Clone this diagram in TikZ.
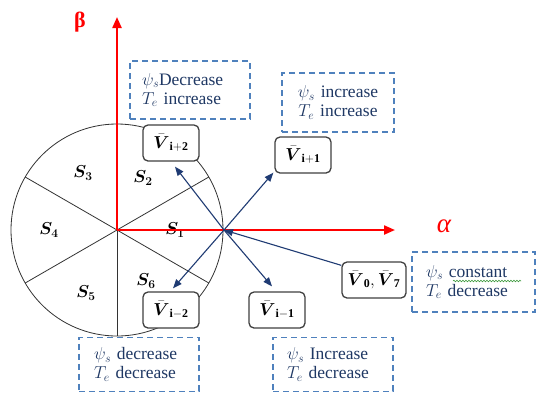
\documentclass[tikz,border=0pt]{standalone}
\usepackage{amsmath}
\usepackage{fontspec}
\setmainfont{Liberation Serif}
\usetikzlibrary{arrows.meta,decorations.pathmorphing}
\definecolor{axisred}{HTML}{FF0000}
\definecolor{vecblue}{HTML}{1F3B73}
\definecolor{dashblue}{HTML}{4F81BD}
\definecolor{txtblue}{HTML}{1F3864}
\definecolor{boxgray}{HTML}{404040}
\definecolor{wavegreen}{HTML}{3C9A3C}
\begin{document}
\begin{tikzpicture}[x=1pt,y=-1pt,
  axis/.style={axisred, line width=2.2pt, -{Triangle[length=11pt,width=9pt]}},
  vec/.style={vecblue, line width=1.1pt, -{Triangle[length=9pt,width=7pt]}},
  sector/.style={black!80, line width=0.8pt},
  vbox/.style={draw=boxgray, line width=1.3pt, rounded corners=5pt, fill=white, minimum width=56pt, minimum height=36pt, inner sep=0pt, font=\fontsize{17}{19}\selectfont},
  infobox/.style={draw=dashblue, dash pattern=on 6pt off 4pt, line width=1.2pt, text=txtblue, font=\fontsize{17.5}{19}\selectfont},
  slabel/.style={font=\fontsize{18}{20}\selectfont}
]
\clip (0,0) rectangle (537,392);
\fill[white] (0,0) rectangle (537,392);
% circle and sectors
\coordinate (C) at (117,230);
\draw[sector] (C) circle[radius=106pt];
\draw[sector] (C) -- ++(30:106pt);
\draw[sector] (C) -- ++(150:106pt);
\draw[sector] (C) -- ++(210:106pt);
\draw[sector] (C) -- ++(270:106pt);
\draw[sector] (C) -- ++(330:106pt);
% sector labels
\node[slabel] (s1) at (175,230) {$\boldsymbol{S_1}$};
\node[slabel] (s2) at (143,178) {$\boldsymbol{S_2}$};
\node[slabel] (s3) at (83,173) {$\boldsymbol{S_3}$};
\node[slabel] (s4) at (49,230) {$\boldsymbol{S_4}$};
\node[slabel] (s5) at (86,293) {$\boldsymbol{S_5}$};
\node[slabel] (s6) at (146,281) {$\boldsymbol{S_6}$};
% axes
\coordinate (betatip) at (117,17);
\coordinate (alphatip) at (395,230);
\draw[axis] (C) -- (betatip);
\draw[axis] (C) -- (alphatip);
\node[text=axisred, font=\fontsize{22}{24}\selectfont\bfseries] (beta) at (80,22) {β};
\node[text=axisred, font=\fontsize{27}{30}\selectfont\itshape] (alpha) at (444,226) {α};
% vector boxes
\node[vbox] (vip2) at (171,143) {$\bar{\boldsymbol{V}}_{\mathbf{i+2}}$};
\node[vbox] (vip1) at (303,155) {$\bar{\boldsymbol{V}}_{\mathbf{i+1}}$};
\node[vbox] (vim2) at (171,310) {$\bar{\boldsymbol{V}}_{\mathbf{i-2}}$};
\node[vbox] (vim1) at (277,310) {$\bar{\boldsymbol{V}}_{\mathbf{i-1}}$};
\node[vbox, minimum width=64pt] (v07) at (374,280) {$\bar{\boldsymbol{V}}_{\mathbf{0}},\bar{\boldsymbol{V}}_{\mathbf{7}}$};
% vectors
\coordinate (O2) at (224,230);
\draw[vec] (O2) -- ([xshift=4pt,yshift=-5pt]vip2.south);
\draw[vec] (O2) -- ([xshift=-1pt,yshift=1pt]vip1.south west);
\draw[vec] (O2) -- ([xshift=2pt,yshift=3pt]vim2.north);
\draw[vec] (O2) -- ([xshift=-5pt,yshift=5pt]vim1.north);
\draw[vec] ([yshift=-4pt]v07.north west) -- (O2);
% info boxes
\node[infobox, minimum width=120pt, minimum height=58pt, text width=96pt, inner xsep=12pt, align=left] (itl) at (190,90) {$\psi_s$Decrease\\$T_e$ increase};
\node[infobox, minimum width=112pt, minimum height=59pt, text width=92pt, inner xsep=10pt, align=center] (itr) at (338,102.5) {$\psi_s$ increase\\$T_e$ increase};
\node[infobox, minimum width=123pt, minimum height=60pt, text width=95pt, inner xsep=14pt, align=left] (ir) at (473.5,282) {$\psi_s$ constant\\$T_e$ decrease};
\node[infobox, anchor=north, text width=90pt, inner xsep=15pt, inner ysep=10pt, align=left] (ibl) at (139,337) {$\psi_s$ decrease\\$T_e$ decrease};
\node[infobox, anchor=north, text width=92pt, inner xsep=14pt, inner ysep=10pt, align=left] (ibr) at (333,337) {$\psi_s$ Increase\\$T_e$ decrease};
% spell-check wave
\coordinate (wv1) at (453,281);
\coordinate (wv2) at (521,281);
\draw[wavegreen, line width=0.6pt, decorate, decoration={snake, amplitude=0.8pt, segment length=3pt}] (wv1) -- (wv2);
\end{tikzpicture}
\end{document}
